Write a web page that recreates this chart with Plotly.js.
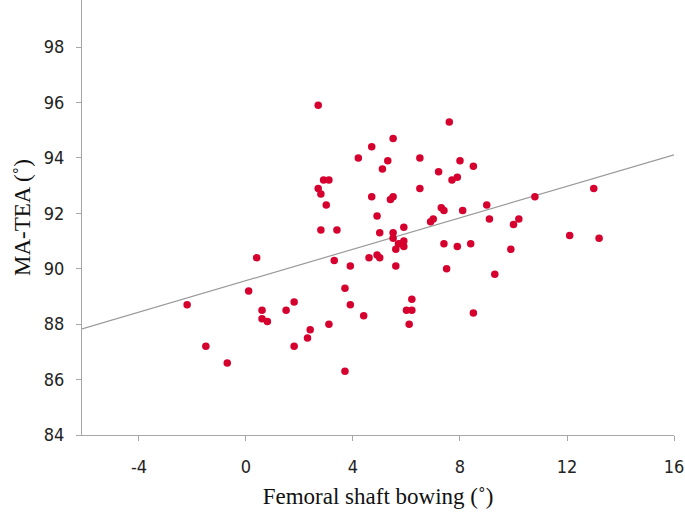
<!DOCTYPE html>
<html>
<head>
<meta charset="utf-8">
<script src="https://cdn.plot.ly/plotly-3.0.1.min.js"></script>
<style>
  html, body { margin: 0; padding: 0; background: #fff; }
  #chart { width: 685px; height: 518px; }
</style>
</head>
<body>
<div id="chart"></div>
<script>
// femoral shaft bowing (deg) vs MA-TEA (deg)
const bowing = [
  2.7, 4.7, 4.2, 2.9, 3.1, 2.7, 2.8, 3.0, 4.7, 4.9,
  2.8, 3.4, 5.0, 0.4, 3.3, 3.9, 4.6, 4.9, 5.0, 7.6,
  5.5, 5.3, 5.1, 6.5, 8.0, 8.5, 7.2, 7.7, 7.9, 6.5,
  5.4, 5.5, 10.8, 13.0, 7.3, 7.4, 8.1, 9.0, 9.1, 6.9,
  7.0, 10.0, 10.2, 5.5, 5.5, 5.9, 5.9, 5.8, 5.7, 5.6,
  5.9, 12.1, 13.2, 7.4, 7.9, 8.4, 9.9, 5.6, 7.5, 9.3,
  -2.2, 0.1, 0.6, 0.6, 0.8, 1.5, 1.8, -1.5, -0.7, 1.8,
  2.3, 2.4, 3.1, 3.7, 3.9, 4.4, 3.7, 6.2, 6.0, 6.2,
  6.1, 8.5
];
const maTea = [
  95.9, 94.4, 94.0, 93.2, 93.2, 92.9, 92.7, 92.3, 92.6, 91.9,
  91.4, 91.4, 91.3, 90.4, 90.3, 90.1, 90.4, 90.5, 90.4, 95.3,
  94.7, 93.9, 93.6, 94.0, 93.9, 93.7, 93.5, 93.2, 93.3, 92.9,
  92.5, 92.6, 92.6, 92.9, 92.2, 92.1, 92.1, 92.3, 91.8, 91.7,
  91.8, 91.6, 91.8, 91.3, 91.1, 91.5, 91.0, 90.9, 90.9, 90.7,
  90.8, 91.2, 91.1, 90.9, 90.8, 90.9, 90.7, 90.1, 90.0, 89.8,
  88.7, 89.2, 88.5, 88.2, 88.1, 88.5, 88.8, 87.2, 86.6, 87.2,
  87.5, 87.8, 88.0, 89.3, 88.7, 88.3, 86.3, 88.9, 88.5, 88.5,
  88.0, 88.4
];
// fitted line endpoints (x range of the axis)
const fitX = [-6.13, 16];
const fitY = [87.83, 94.11];

const xTicks = [-4, 0, 4, 8, 12, 16];
const xTickText = ['-4', '0', '4', '8', '12', '16'];
const yTicks = [84, 86, 88, 90, 92, 94, 96, 98];

const axisCommon = {
  showgrid: false,
  zeroline: false,
  showline: true,
  linecolor: '#a6a6a6',
  linewidth: 1,
  ticks: 'outside',
  ticklen: 5,
  tickcolor: '#a6a6a6',
  tickfont: { family: 'Liberation Sans Narrow, DejaVu Sans Condensed, sans-serif', size: 18, color: '#222' },
  automargin: false
};

const traces = [
  {
    x: fitX, y: fitY,
    type: 'scatter', mode: 'lines',
    line: { color: '#9a9a9a', width: 1.2 },
    hoverinfo: 'skip'
  },
  {
    x: bowing, y: maTea,
    type: 'scatter', mode: 'markers',
    marker: { color: '#d6002f', size: 7.5, line: { width: 0 } }
  }
];

const layout = {
  width: 685,
  height: 518,
  paper_bgcolor: '#fff',
  plot_bgcolor: '#fff',
  showlegend: false,
  margin: { l: 82, r: 11, t: 0, b: 83 },
  xaxis: Object.assign({}, axisCommon, {
    range: [-6.13, 16],
    tickmode: 'array',
    tickvals: xTicks,
    ticktext: xTickText,
    ticklabelstandoff: 10,
    title: {
      text: 'Femoral shaft bowing (˚)',
      font: { family: 'Liberation Serif, Times New Roman, serif', size: 23, color: '#111' },
      standoff: 12
    }
  }),
  yaxis: Object.assign({}, axisCommon, {
    range: [84, 99.7],
    tickmode: 'array',
    tickvals: yTicks,
    ticklabelstandoff: 8,
    title: {
      text: 'MA-TEA (˚)',
      font: { family: 'Liberation Serif, Times New Roman, serif', size: 23, color: '#111' },
      standoff: 6
    }
  })
};

Plotly.newPlot('chart', traces, layout, { displayModeBar: false, staticPlot: true });
</script>
</body>
</html>
